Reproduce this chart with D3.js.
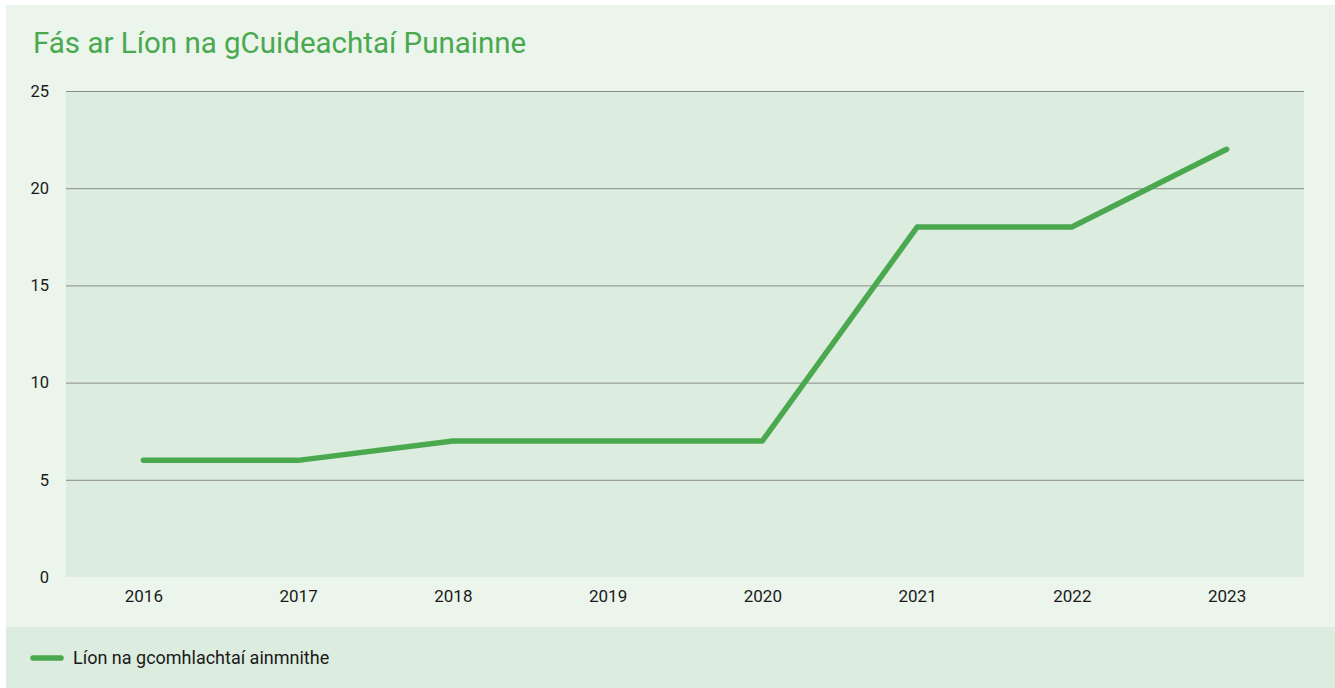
<!DOCTYPE html>
<html>
<head>
<meta charset="utf-8">
<script src="https://cdn.jsdelivr.net/npm/d3@7"></script>
<style>
  html, body { margin: 0; padding: 0; background: #ffffff; }
  svg { display: block; }
  text { font-family: "Roboto", "Liberation Sans", sans-serif; }
</style>
</head>
<body>
<svg id="chart" width="1335" height="688"></svg>
<script>
// Portfolio company counts per year
const years = ["2016", "2017", "2018", "2019", "2020", "2021", "2022", "2023"];
const companyCounts = [6, 6, 7, 7, 7, 18, 18, 22];
const yTicks = [0, 5, 10, 15, 20, 25];
const titleText = "Fás ar Líon na gCuideachtaí Punainne";
const seriesName = "Líon na gcomhlachtaí ainmnithe";

const svg = d3.select("#chart");
const W = 1335, H = 688;
const green = "#4aa84f";

// outer panel
svg.append("rect").attr("x", 6).attr("y", 5).attr("width", W - 6).attr("height", H - 5).attr("fill", "#ebf5eb");
// legend band
svg.append("rect").attr("x", 6).attr("y", 627).attr("width", W - 6).attr("height", H - 627).attr("fill", "#dcecde");

const plot = { left: 66, right: 1304, top: 91, bottom: 577 };

svg.append("rect")
  .attr("x", plot.left).attr("y", plot.top)
  .attr("width", plot.right - plot.left).attr("height", plot.bottom - plot.top)
  .attr("fill", "#dcecde");

const x = d3.scalePoint().domain(years).range([plot.left, plot.right]).padding(0.5);
const y = d3.scaleLinear().domain([0, 25]).range([plot.bottom, plot.top]);

// title
svg.append("text")
  .attr("x", 33).attr("y", 53)
  .attr("fill", "#4aa84f")
  .attr("font-size", 29.5)
  .text(titleText);

// gridlines
svg.append("g")
  .selectAll("line")
  .data(yTicks.filter(d => d > 0))
  .join("line")
  .attr("x1", plot.left).attr("x2", plot.right)
  .attr("y1", d => y(d) + 0.5).attr("y2", d => y(d) + 0.5)
  .attr("stroke", "#8a8a8a").attr("stroke-width", 1);

// y axis labels
const yAxis = d3.axisLeft(y).tickValues(yTicks).tickSize(0).tickPadding(0);
svg.append("g")
  .attr("transform", `translate(49,0)`)
  .call(yAxis)
  .call(g => g.select(".domain").remove())
  .call(g => g.selectAll("text")
    .attr("fill", "#1a1a1a").attr("font-size", 16.5)
    .style("font-family", "Roboto, sans-serif"));

// x axis labels
const xAxis = d3.axisBottom(x).tickSize(0).tickPadding(0);
svg.append("g")
  .attr("transform", `translate(0,${plot.bottom + 13})`)
  .call(xAxis)
  .call(g => g.select(".domain").remove())
  .call(g => g.selectAll("text")
    .attr("fill", "#1a1a1a").attr("font-size", 17)
    .style("font-family", "Roboto, sans-serif"));

// series line
const line = d3.line()
  .x((d, i) => x(years[i]))
  .y(d => y(d));

svg.append("path")
  .datum(companyCounts)
  .attr("d", line)
  .attr("fill", "none")
  .attr("stroke", green)
  .attr("stroke-width", 5.5)
  .attr("stroke-linecap", "round")
  .attr("stroke-linejoin", "round");

// legend
svg.append("line")
  .attr("x1", 33).attr("x2", 61)
  .attr("y1", 658).attr("y2", 658)
  .attr("stroke", green).attr("stroke-width", 5.5).attr("stroke-linecap", "round");
svg.append("text")
  .attr("x", 73).attr("y", 664)
  .attr("fill", "#1a1a1a").attr("font-size", 18)
  .text(seriesName);
</script>
</body>
</html>
